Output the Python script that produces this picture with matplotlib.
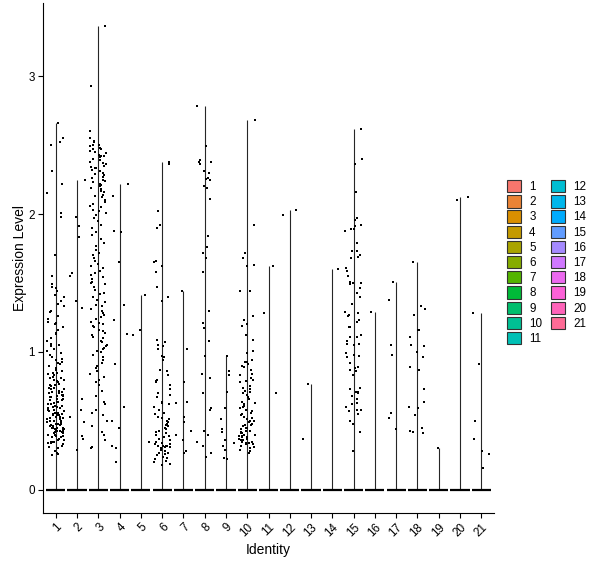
import numpy as np
import matplotlib
matplotlib.use("Agg")
import matplotlib.pyplot as plt
from matplotlib.patches import Patch

plt.rcParams['font.family'] = ['Liberation Sans', 'DejaVu Sans']

identities = [str(i) for i in range(1, 22)]

c1 = [2.66, 2.55, 2.52, 2.50, 2.31, 2.22, 2.15, 2.01, 1.98, 1.70, 1.55, 1.49, 1.47, 1.41,
      1.46, 1.44, 1.40, 1.37, 1.35, 1.33, 1.30, 1.29, 1.26, 1.24, 1.22, 1.21,
      1.20, 1.18, 1.16, 1.14, 1.13, 1.10, 1.08, 1.06, 1.05, 1.04, 1.02, 1.01, 0.99, 0.98,
      0.96, 0.95, 0.94, 0.93, 0.92, 0.91, 0.90, 0.88, 0.87, 0.86, 0.85, 0.85, 0.84, 0.83,
      0.82, 0.81, 0.81, 0.80, 0.80, 0.79, 0.78, 0.78, 0.77, 0.76, 0.76, 0.75, 0.74, 0.74,
      0.73, 0.73, 0.72, 0.71, 0.71, 0.70, 0.70, 0.69, 0.69, 0.68, 0.68,
      0.67, 0.67, 0.66, 0.66, 0.65, 0.65, 0.64, 0.64, 0.63, 0.63, 0.62, 0.62, 0.61, 0.61,
      0.60, 0.60, 0.59, 0.59, 0.58, 0.58, 0.57, 0.57, 0.56, 0.56, 0.56,
      0.55, 0.55, 0.54, 0.54, 0.54, 0.53, 0.53, 0.52, 0.52, 0.52, 0.51, 0.51, 0.50, 0.50,
      0.50, 0.49, 0.49, 0.48, 0.48, 0.48, 0.47, 0.47, 0.47, 0.46, 0.46, 0.46, 0.45, 0.45,
      0.45, 0.45, 0.44, 0.44, 0.44, 0.44, 0.43, 0.43, 0.43,
      0.43, 0.42, 0.42, 0.41, 0.41, 0.40, 0.40, 0.39, 0.39, 0.38, 0.38, 0.37, 0.37, 0.36,
      0.36, 0.35, 0.35, 0.35, 0.34, 0.34,
      0.33, 0.32, 0.31, 0.30, 0.28, 0.27, 0.26, 0.25]
c2 = [2.25, 1.98, 1.91, 1.83, 1.57, 1.55, 1.37, 1.32, 0.66, 0.58, 0.53, 0.49, 0.39, 0.37, 0.29]
c3 = [3.36, 2.93, 2.60, 2.55, 2.53, 2.52, 2.50, 2.50, 2.49, 2.48, 2.47, 2.47, 2.46, 2.45,
      2.44, 2.43, 2.42, 2.42, 2.41, 2.40, 2.39, 2.38, 2.37, 2.36, 2.35, 2.34, 2.33, 2.33,
      2.32, 2.31, 2.30, 2.29, 2.28, 2.27, 2.26, 2.25, 2.24, 2.23, 2.22, 2.21, 2.20, 2.19,
      2.18, 2.17, 2.16, 2.14, 2.13, 2.12, 2.10, 2.09, 2.07, 2.06, 2.05, 2.03, 2.02, 2.01,
      1.99, 1.97, 1.95, 1.92, 1.90, 1.87, 1.85, 1.82, 1.79, 1.77, 1.74, 1.72,
      1.70, 1.68, 1.66, 1.64, 1.62, 1.61, 1.59, 1.57, 1.56, 1.54, 1.53, 1.51, 1.51, 1.50,
      1.49, 1.47, 1.45, 1.43, 1.42, 1.40, 1.38, 1.36, 1.34, 1.33, 1.31, 1.30, 1.28, 1.27,
      1.25, 1.24, 1.22, 1.21, 1.20, 1.19, 1.18, 1.16, 1.15, 1.14, 1.12, 1.11, 1.10, 1.08,
      1.07, 1.05, 1.04, 1.03, 1.02, 1.01,
      1.00, 0.98, 0.96, 0.94, 0.92, 0.90, 0.88, 0.86, 0.84, 0.82, 0.80, 0.78,
      0.76, 0.72, 0.68, 0.64, 0.62, 0.58, 0.56, 0.54,
      0.50, 0.46, 0.42, 0.40, 0.36, 0.31, 0.30]
c4 = [2.22, 2.13, 1.88, 1.87, 1.65, 1.34, 1.23, 1.13, 0.91, 0.60, 0.50, 0.45, 0.32, 0.30, 0.20]
c5 = [1.41, 1.16, 1.12, 0.35]
c6 = [2.38, 2.36, 2.02, 1.92, 1.90, 1.66, 1.65, 1.62, 1.58, 1.47, 1.40, 1.37,
      1.09, 1.07, 1.05, 1.04, 1.02, 0.97, 0.96, 0.94, 0.87, 0.86, 0.83, 0.80, 0.79,
      0.78, 0.76, 0.73, 0.70, 0.69, 0.67, 0.64, 0.63, 0.62, 0.60, 0.58, 0.56, 0.55,
      0.53, 0.52, 0.51, 0.50, 0.49, 0.48, 0.47, 0.46, 0.45, 0.44, 0.43, 0.42, 0.41,
      0.40, 0.39, 0.38, 0.37, 0.36, 0.35, 0.34, 0.33, 0.33, 0.32, 0.32, 0.32, 0.32,
      0.32, 0.31, 0.31, 0.30, 0.29, 0.28, 0.27, 0.27, 0.26, 0.25, 0.24, 0.23, 0.22,
      0.21, 0.20, 0.19, 0.18]
c7 = [1.44, 1.02, 0.78, 0.64, 0.63, 0.53, 0.49, 0.43, 0.40, 0.36, 0.28, 0.27]
c8 = [2.78, 2.49, 2.39, 2.38, 2.375, 2.36, 2.31, 2.30, 2.26, 2.255, 2.25, 2.20, 2.19,
      2.11, 1.84, 1.76, 1.72, 1.68, 1.58, 1.30, 1.21, 1.17, 1.08, 0.97, 0.84, 0.81,
      0.70, 0.59, 0.58, 0.43, 0.40, 0.35, 0.32, 0.27, 0.24]
c9 = [0.97, 0.86, 0.83, 0.71, 0.59, 0.51, 0.44, 0.42, 0.36, 0.34, 0.32, 0.29, 0.23, 0.22]
c10 = [2.68, 1.92, 1.72, 1.68, 1.63, 1.62, 1.44, 1.44, 1.26, 1.23, 1.20, 1.19, 1.12,
       1.09, 1.01, 0.99, 0.94, 0.93, 0.93, 0.91, 0.90, 0.89, 0.87, 0.84, 0.83, 0.81,
       0.80, 0.79, 0.78, 0.75, 0.74, 0.73, 0.72, 0.71, 0.70, 0.69, 0.67, 0.66, 0.64,
       0.63, 0.62, 0.61, 0.60, 0.59, 0.58, 0.57, 0.56, 0.55, 0.54, 0.53, 0.52, 0.51,
       0.50, 0.50, 0.49, 0.48, 0.47, 0.47, 0.46, 0.45, 0.45, 0.44, 0.43, 0.43, 0.42,
       0.41, 0.41, 0.40, 0.40, 0.39, 0.39, 0.38, 0.38, 0.37, 0.37, 0.36, 0.36, 0.35,
       0.35, 0.34, 0.34, 0.33, 0.33, 0.32, 0.31, 0.31, 0.30, 0.29, 0.28, 0.27]
c11 = [1.62, 1.28, 0.70]
c12 = [2.03, 1.99]
c13 = [0.77, 0.37]
c14 = [1.60]
c15 = [2.62, 2.40, 2.36, 2.16, 1.97, 1.96, 1.92, 1.91, 1.89, 1.89, 1.88, 1.79, 1.73,
       1.73, 1.70, 1.69, 1.68, 1.61, 1.59, 1.55, 1.51, 1.50, 1.50, 1.49, 1.46, 1.43,
       1.40, 1.35, 1.29, 1.28, 1.27, 1.26, 1.23, 1.22, 1.18, 1.18, 1.12, 1.11, 1.11,
       1.08, 1.06, 1.06, 1.05, 0.99, 0.98, 0.97, 0.96, 0.92, 0.89, 0.88, 0.87, 0.86,
       0.83, 0.74, 0.73, 0.71, 0.71, 0.70, 0.68, 0.66, 0.63, 0.62, 0.60, 0.58, 0.58,
       0.57, 0.55, 0.50, 0.48, 0.42, 0.28]
c16 = [1.29]
c17 = [1.51, 1.38, 1.05, 0.98, 0.56, 0.52, 0.44]
c18 = [1.65, 1.33, 1.31, 1.27, 1.16, 1.16, 1.11, 1.05, 1.04, 1.00, 0.96, 0.89, 0.87,
       0.73, 0.64, 0.60, 0.59, 0.54, 0.45, 0.43, 0.42, 0.41]
c19 = [0.30, 0.30]
c20 = [2.12, 2.10]
c21 = [1.28, 0.91, 0.50, 0.37, 0.28, 0.26, 0.16]

expr = [c1, c2, c3, c4, c5, c6, c7, c8, c9, c10, c11, c12, c13, c14, c15, c16, c17,
        c18, c19, c20, c21]


def hue_pal(n, l=65, c=100):
    hues = np.linspace(15, 375, n + 1)[:n]
    Xn, Yn, Zn = 95.047, 100.0, 108.883
    un = 4 * Xn / (Xn + 15 * Yn + 3 * Zn)
    vn = 9 * Yn / (Xn + 15 * Yn + 3 * Zn)
    M = np.array([[3.2404542, -1.5371385, -0.4985314],
                  [-0.9692660, 1.8760108, 0.0415560],
                  [0.0556434, -0.2040259, 1.0572252]])
    out = []
    for h in hues:
        u = c * np.cos(np.radians(h))
        v = c * np.sin(np.radians(h))
        Y = Yn * ((l + 16) / 116) ** 3
        up = u / (13 * l) + un
        vp = v / (13 * l) + vn
        X = Y * 9 * up / (4 * vp)
        Z = Y * (12 - 3 * up - 20 * vp) / (4 * vp)
        rgb = M @ (np.array([X, Y, Z]) / 100)
        rgb = np.where(rgb <= 0.0031308, 12.92 * rgb, 1.055 * np.power(np.clip(rgb, 0, None), 1 / 2.4) - 0.055)
        out.append(tuple(np.clip(rgb, 0, 1)))
    return out


colors = hue_pal(len(identities))

fig = plt.figure(figsize=(6.0, 5.68), dpi=100)
ax = fig.add_axes([43 / 600, 1 - 513 / 568, 451 / 600, 510 / 568])

rng = np.random.default_rng(7)
for i, vals in enumerate(expr):
    x = i + 1
    vals = np.asarray(vals)
    # violin: width-scaled, collapsed to a spike at zero and a thin spine up to the max
    ax.plot([x, x], [0, vals.max()], color='#262626', lw=0.8, zorder=2, solid_capstyle='butt')
    ax.plot([x - 0.45, x + 0.45], [0, 0], color='black', lw=1.6, zorder=2, solid_capstyle='butt')
    jit = rng.uniform(-0.4, 0.4, size=len(vals))
    ax.scatter(x + jit, vals, s=3.2, marker='s', color='black', linewidths=0, zorder=3)

ax.set_xlim(0.4, len(identities) + 0.6)
ax.set_ylim(-0.168, 3.53)
ax.set_xticks(range(1, len(identities) + 1))
ax.set_xticklabels(identities, rotation=45, ha='right', rotation_mode='anchor', fontsize=8.4)
ax.set_yticks([0, 1, 2, 3])
ax.set_yticklabels(['0', '1', '2', '3'], fontsize=8.4)
ax.tick_params(axis='both', length=3.5, width=0.8, color='black', labelcolor='black', pad=2.5)
for s in ['top', 'right']:
    ax.spines[s].set_visible(False)
for s in ['left', 'bottom']:
    ax.spines[s].set_linewidth(0.8)
    ax.spines[s].set_color('black')
ax.set_xlabel('Identity', fontsize=10)
ax.set_ylabel('Expression Level', fontsize=10)
ax.xaxis.set_label_coords(0.5, -0.058)
ax.yaxis.set_label_coords(-0.036, 0.5)

handles = [Patch(facecolor=colors[k], edgecolor='#333333', linewidth=0.8) for k in range(len(identities))]
fig.legend(handles, identities, loc='upper left', bbox_to_anchor=(507 / 600, 1 - 180 / 568),
           ncol=2, frameon=False, fontsize=8.4, handlelength=1.2, handleheight=1.25,
           labelspacing=0.18, handletextpad=0.7, columnspacing=0.75, borderpad=0,
           borderaxespad=0)

fig.savefig('out.png', dpi=100)
